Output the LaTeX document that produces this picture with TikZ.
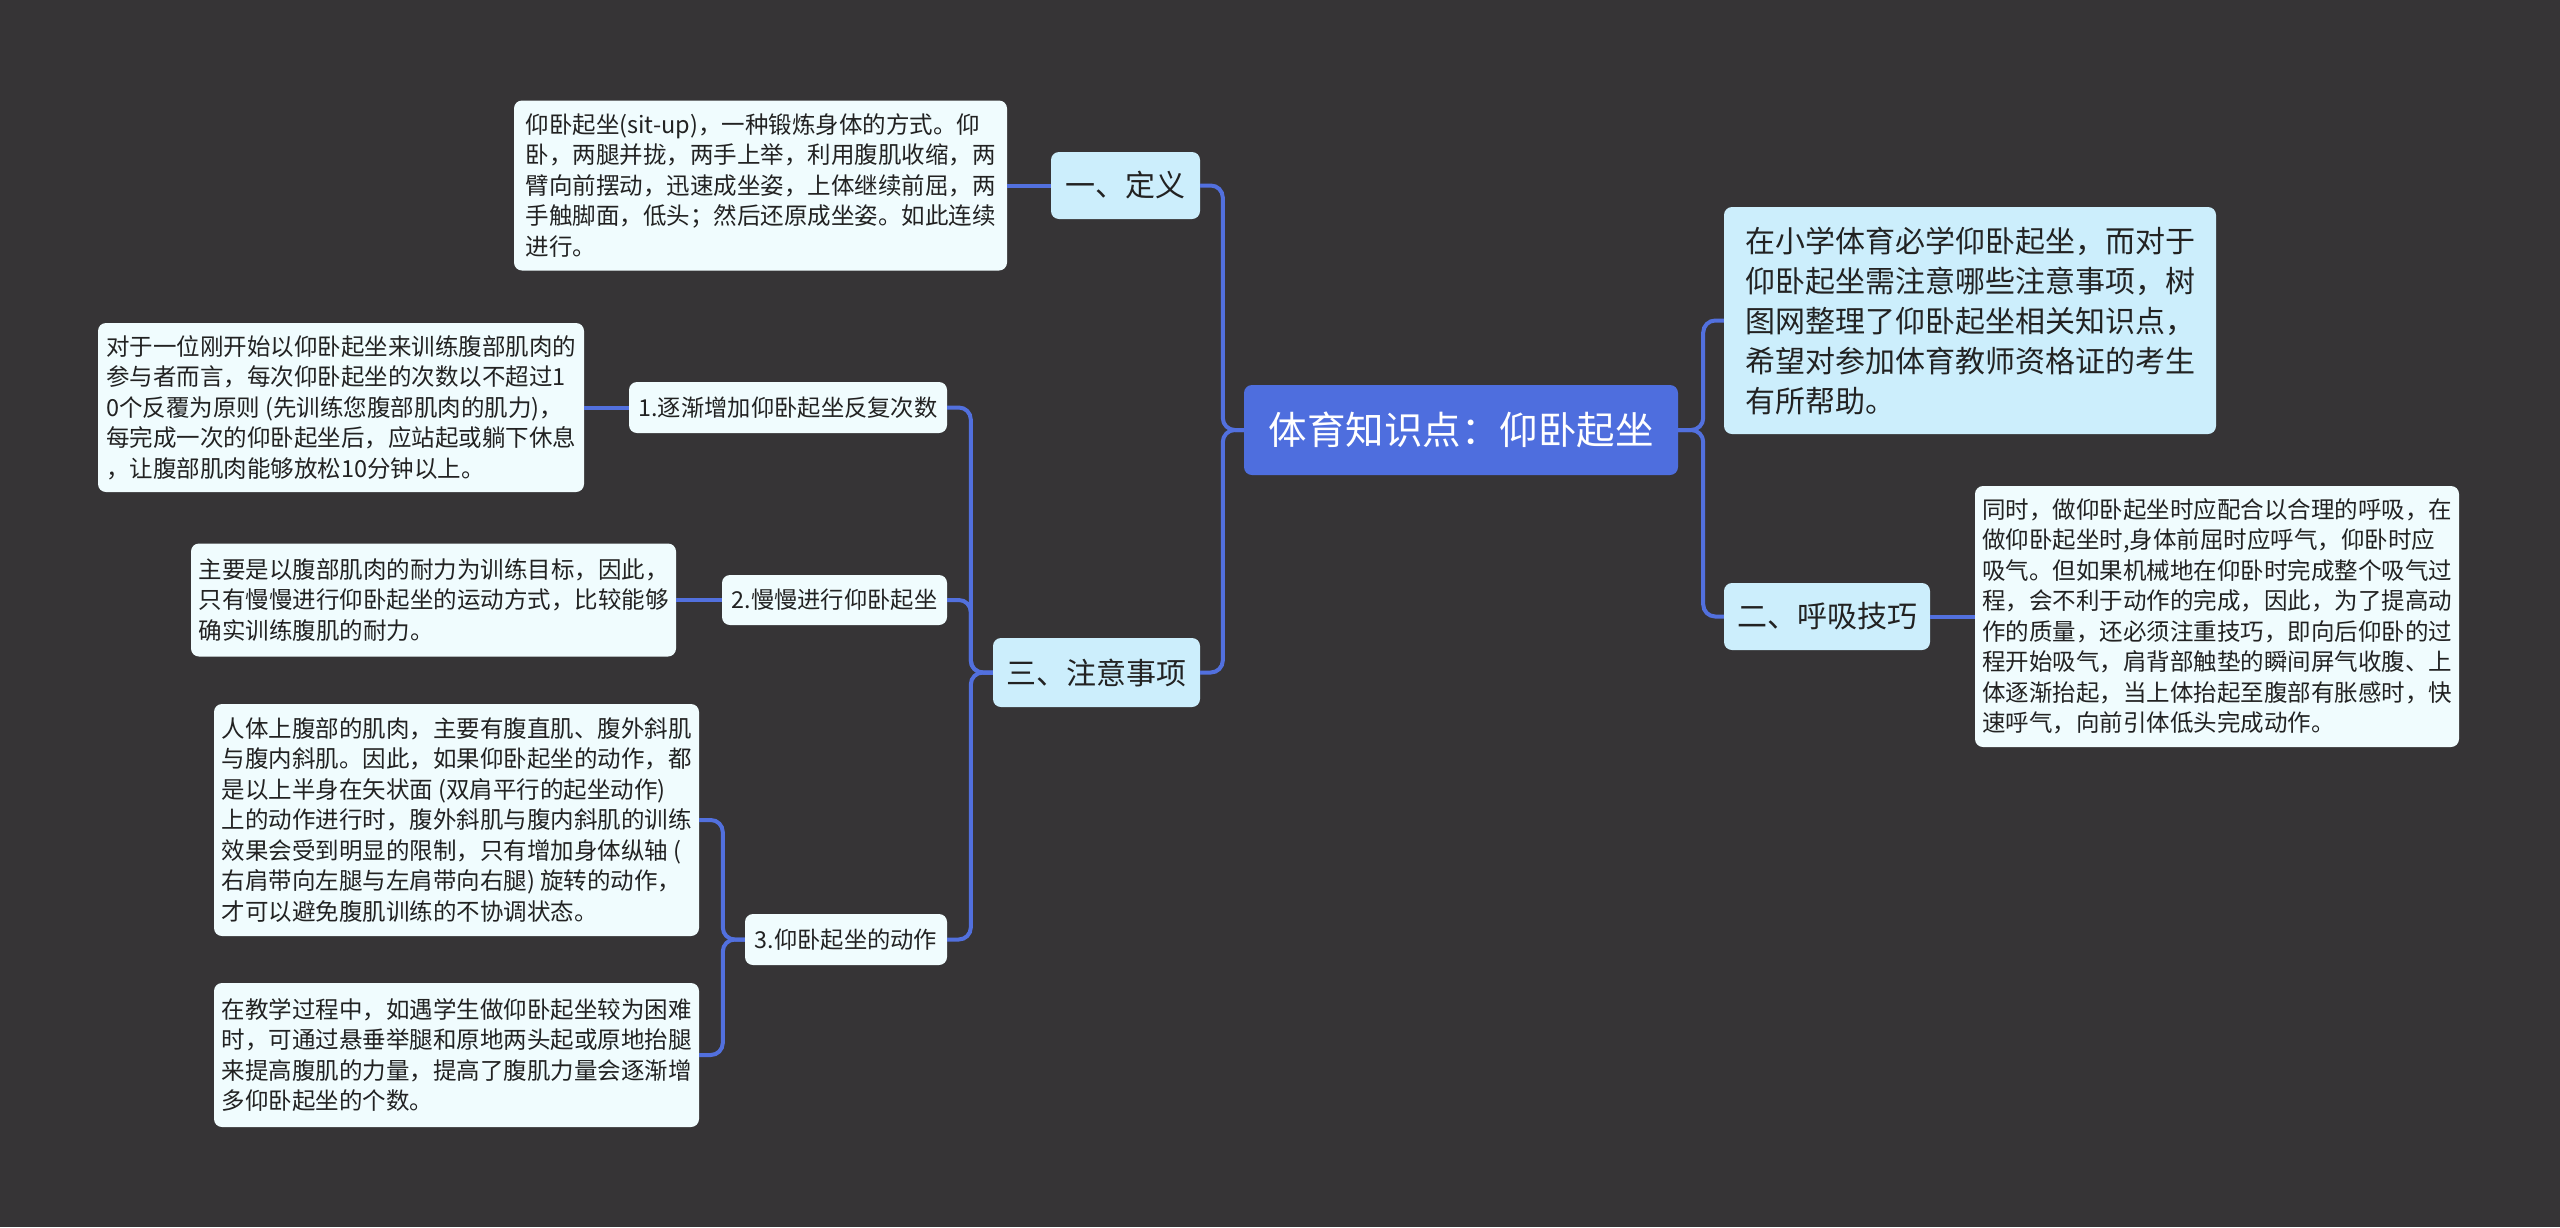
\documentclass[tikz,border=0pt]{standalone}
\usepackage{fontspec}
\setmainfont{Noto Sans CJK SC}
\definecolor{bg}{RGB}{54,52,54}
\definecolor{rootc}{RGB}{78,110,222}
\definecolor{lvl}{RGB}{204,238,252}
\definecolor{leafc}{RGB}{240,252,254}
\definecolor{linec}{RGB}{82,112,222}
\definecolor{txt}{RGB}{34,34,34}
\begin{document}
\begin{tikzpicture}[x=1pt,y=-1pt,
 box/.style={rounded corners=8pt, inner sep=0pt, align=left, text=txt},
 rootbox/.style={box, fill=rootc, text=white, font=\fontsize{38.5}{46}\selectfont},
 lvlbox/.style={box, fill=lvl, font=\fontsize{30}{40}\selectfont},
 subbox/.style={box, fill=leafc, font=\fontsize{23.3}{30.5}\selectfont},
 leafbox/.style={box, fill=leafc, font=\fontsize{23.5}{30.5}\selectfont},
 conn/.style={draw=linec, line width=4pt, rounded corners=12pt}
]
\fill[bg] (0,0) rectangle (2560,1227);
\useasboundingbox (0,0) rectangle (2560,1227);

\node[rootbox, minimum width=434pt, minimum height=90pt] (root) at (1461,430) {体育知识点：仰卧起坐};

\node[lvlbox, minimum width=149pt, minimum height=67pt] (def) at (1125.5,185.5) {一、定义};
\node[leafbox, minimum width=493pt, minimum height=170pt] (defleaf) at (760.5,185.5) {仰卧起坐(sit-up)，一种锻炼身体的方式。仰\\卧，两腿并拢，两手上举，利用腹肌收缩，两\\臂向前摆动，迅速成坐姿，上体继续前屈，两\\手触脚面，低头；然后还原成坐姿。如此连续\\进行。};

\node[lvlbox, minimum width=207pt, minimum height=69pt] (zy) at (1096.5,672.5) {三、注意事项};

\node[subbox, minimum width=318pt, minimum height=51pt] (s1) at (788,407.5) {1.逐渐增加仰卧起坐反复次数};
\node[leafbox, minimum width=486pt, minimum height=169pt] (leaf1) at (341,407.5) {对于一位刚开始以仰卧起坐来训练腹部肌肉的\\参与者而言，每次仰卧起坐的次数以不超过1\\0个反覆为原则 (先训练您腹部肌肉的肌力)，\\每完成一次的仰卧起坐后，应站起或躺下休息\\，让腹部肌肉能够放松10分钟以上。};

\node[subbox, minimum width=225pt, minimum height=50pt] (s2) at (834.5,600) {2.慢慢进行仰卧起坐};
\node[leafbox, minimum width=485pt, minimum height=113pt] (leaf2) at (433.5,600) {主要是以腹部肌肉的耐力为训练目标，因此，\\只有慢慢进行仰卧起坐的运动方式，比较能够\\确实训练腹肌的耐力。};

\node[subbox, minimum width=202pt, minimum height=51pt] (s3) at (846,939.5) {3.仰卧起坐的动作};
\node[leafbox, minimum width=485pt, minimum height=232pt] (leaf3a) at (456.5,820) {人体上腹部的肌肉，主要有腹直肌、腹外斜肌\\与腹内斜肌。因此，如果仰卧起坐的动作，都\\是以上半身在矢状面 (双肩平行的起坐动作)\\上的动作进行时，腹外斜肌与腹内斜肌的训练\\效果会受到明显的限制，只有增加身体纵轴 (\\右肩带向左腿与左肩带向右腿) 旋转的动作，\\才可以避免腹肌训练的不协调状态。};
\node[leafbox, minimum width=485pt, minimum height=144pt] (leaf3b) at (456.5,1055) {在教学过程中，如遇学生做仰卧起坐较为困难\\时，可通过悬垂举腿和原地两头起或原地抬腿\\来提高腹肌的力量，提高了腹肌力量会逐渐增\\多仰卧起坐的个数。};

\node[lvlbox, minimum width=492pt, minimum height=227pt] (intro) at (1970,320.5) {在小学体育必学仰卧起坐，而对于\\仰卧起坐需注意哪些注意事项，树\\图网整理了仰卧起坐相关知识点，\\希望对参加体育教师资格证的考生\\有所帮助。};

\node[lvlbox, minimum width=206pt, minimum height=67pt] (hx) at (1827,616.5) {二、呼吸技巧};
\node[leafbox, minimum width=484pt, minimum height=261pt] (hxleaf) at (2217,616.5) {同时，做仰卧起坐时应配合以合理的呼吸，在\\做仰卧起坐时,身体前屈时应呼气，仰卧时应\\吸气。但如果机械地在仰卧时完成整个吸气过\\程，会不利于动作的完成，因此，为了提高动\\作的质量，还必须注重技巧，即向后仰卧的过\\程开始吸气，肩背部触垫的瞬间屏气收腹、上\\体逐渐抬起，当上体抬起至腹部有胀感时，快\\速呼气，向前引体低头完成动作。};

\draw[conn] (root.west) -- ++(-21,0) |- (def.east);
\draw[conn] (root.west) -- ++(-21,0) |- (zy.east);
\draw[conn] (root.east) -- ++(25,0) |- (intro.west);
\draw[conn] (root.east) -- ++(25,0) |- (hx.west);
\draw[conn] (zy.west) -- ++(-22,0) |- (s1.east);
\draw[conn] (zy.west) -- ++(-22,0) |- (s2.east);
\draw[conn] (zy.west) -- ++(-22,0) |- (s3.east);
\draw[conn] (s3.west) -- ++(-22,0) |- (leaf3a.east);
\draw[conn] (s3.west) -- ++(-22,0) |- (leaf3b.east);
\draw[conn] (defleaf.east) -- (def.west);
\draw[conn] (leaf1.east) -- (s1.west);
\draw[conn] (leaf2.east) -- (s2.west);
\draw[conn] (hx.east) -- (hxleaf.west);
\end{tikzpicture}
\end{document}
